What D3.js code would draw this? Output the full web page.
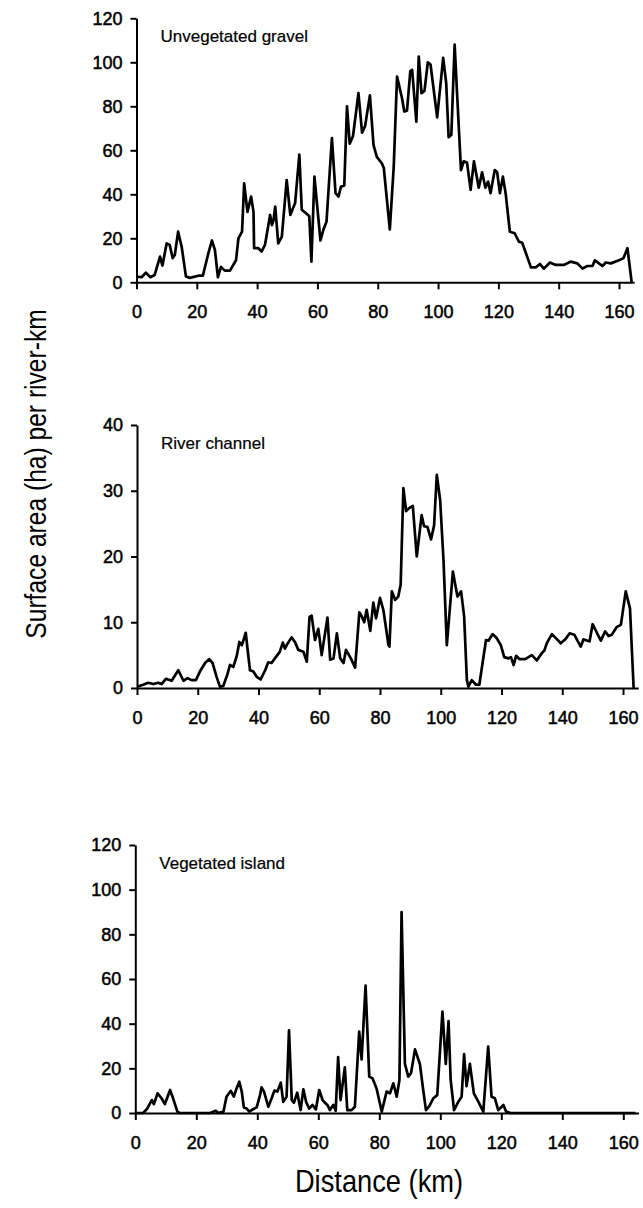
<!DOCTYPE html>
<html>
<head>
<meta charset="utf-8">
<style>
body { margin: 0; background: #fff; }
svg text { font-family: "Liberation Sans", Arial, Helvetica, sans-serif; fill: #000; }
</style>
</head>
<body>
<svg width="643" height="1208"></svg>
<script src="https://cdn.jsdelivr.net/npm/d3@7/dist/d3.min.js"></script>
<script>
// distance ticks (km)
var xTicks = [0, 20, 40, 60, 80, 100, 120, 140, 160];

// unvegetated gravel
var gravelKm  = [0,1.7,3.1,4.6,6,7.8,8.6,10,11,12,12.7,13.8,15,16.4,17.7,20.5,22,23.8,25,26,27,28,29.3,31,33,33.8,35,35.7,36.8,38,38.8,39,40.4,41.5,42.6,44.3,44.9,45.4,46,47,48.2,49.8,51,52.6,54,54.8,56.5,57.3,58,59,61,62,63,64.8,66,67,67.8,68.9,69.8,70.7,71.8,73.6,74.8,75.8,77.4,78.6,79.7,81.4,82,84,85.3,86.4,88,88.8,89.7,90.8,91.4,92.8,93.6,94.5,95.5,96.6,97.5,99.7,101.7,102.7,103.5,104.4,105.5,106.3,107.6,108.5,109.6,110.8,111.9,113.5,114.6,115.7,116.6,117.4,118.8,119.6,120.5,121.5,122.4,123.8,125.4,126.8,127.9,130.8,132.4,133.8,135.1,137.1,139,141.7,144,146.2,147.9,149.5,151.2,152,154.5,155.6,157.3,160,161.5,162.8,164.2];
var gravelVal = [2.6,2.3,4.4,2.3,3.3,11.7,7.6,17.7,17,11,12.4,23,16,2.6,2,3,3,13,19,14.7,2.3,7,5.3,5.3,10,20,23,45,32,39,32,15.5,15.5,14,17,30.6,26,28,34.4,17.7,20.8,46.5,30.6,36,58,33,31,30,9.4,48,19,24,27.5,65.5,40.5,39,43.5,44,80,63,66.5,86,68,71,85,62.4,57,54,52,24,52.6,93.5,84,77.6,78,96,96.5,73,102.6,86,87,100,99,75,102,90.5,66,67,108,86,51,55,54.4,42,55,43,50,43,45.8,40.5,51,50,40.5,48,40.5,23,22.3,18.5,18,6.8,6.8,8.3,6.2,9,7.9,7.9,9.4,8.6,6.2,7.4,7.4,10,7.4,9,8.6,10,11,15.5,0];

// river channel
var channelKm  = [0,2,3.7,5.4,7,8.1,9.5,11.4,13.6,15.3,16.6,18,19.4,20.7,22.4,23.8,24.9,26.2,27.3,28.4,29.7,30.6,31.7,32.8,33.7,34.5,35,35.8,36.3,37.2,38.3,39.4,40.7,42.2,43.2,44.3,45.4,46.2,47,48,48.7,49.5,50.9,52,53.1,54.8,55.9,56.8,57.5,58,58.6,59.7,60.8,62.7,63.6,64.7,65.8,66.9,68,68.8,70.4,71.8,73.2,74,74.8,75.6,76.8,77.8,78.7,80,81.1,82.8,83.1,83.9,85,86,86.8,87.7,88.6,89.7,90.8,92.1,93.7,94.5,95.6,96.8,97.8,98.7,99.8,100.9,102,104,105.5,106.7,107.7,108.6,109.1,110.2,111.6,112.7,114.9,115.7,117.1,118.4,119.8,120.9,122.3,123.1,124,124.8,125.9,127.8,130,131.6,133.3,134.1,135,136.6,138.3,139.5,141,142.4,144,145,146.1,147,148.3,149,150,151.4,152.7,154.1,155.3,156.3,158,159.3,160.9,162.3,163.5];
var channelVal = [0.2,0.5,0.8,0.6,0.8,0.6,1.4,1.1,2.7,1.1,1.5,1.2,1.2,2.5,3.8,4.4,3.8,1.7,0.2,0.3,2,3.5,3.2,4.8,7,6.5,7.2,8.4,6.3,2.7,2.5,1.7,1.3,2.7,3.9,3.8,4.5,5,5.5,6.9,6,6.7,7.7,7,5.8,5.5,4,10.8,11,9.3,7.3,9,5,10.7,4.3,4.5,8.3,4.5,3.8,5.8,4.5,3.1,11.5,10.9,10,11.9,8.7,13,10.6,13.7,11.9,6.5,6.3,14.7,13.4,13.9,15.7,30.4,26.9,27.4,27.7,20,26.3,24.6,24.5,22.6,24.7,32.4,28.6,19.5,6.5,17.7,13.9,14.7,10.9,1.2,0.2,1.2,0.5,0.5,7.3,7.2,8.2,7.6,6.5,4.7,4.5,4.7,3.5,4.9,4.4,4.4,5,4.2,5.3,5.7,6.9,8.2,7.4,6.8,7.4,8.3,8.1,7.2,6.3,7.4,7.2,7.1,9.7,8.4,7.2,8.6,7.9,8.1,9.3,9.6,14.7,12.1,0];

// vegetated island
var islandKm  = [0,2.6,3.9,5.4,6.1,7.3,8.6,9.7,11.4,12.2,13.8,14.6,24.5,25.6,26.4,27.2,28.9,29.9,31.3,32.3,33.2,34.1,34.9,35.6,36.5,37.4,38.5,39.8,40.9,41.4,42.2,43.6,44.7,45.6,46.6,47.7,48.5,49.6,50.4,51.3,52,53.1,54.2,55.1,56,57,58.1,59.2,60.3,61.4,62.2,63,63.8,64.9,65.7,66.5,67.3,68.7,69.5,70.9,72,73.4,74.2,75.5,76.7,77.8,79.1,80.8,82.4,83.5,84.6,85.7,86.6,87.3,88.4,89.5,90.4,91.7,93.3,94.4,95.3,96.4,97.7,99,100.7,101.8,102.7,103.4,104.5,105.9,107,107.8,108.6,109.7,111,112.5,114.1,115.7,116.8,117.9,119,120.7,121.6,123,164];
var islandVal = [0,0,2,5.8,4,8.8,6.6,4,10.3,7.3,0.6,0,0,0.6,1,0,0.6,7.3,9.9,7.3,11,14,9.6,2.5,2,0.6,1.6,2.5,8,11.5,9.6,2.8,6.6,10,9.6,13.6,5,7.3,37,5.8,4.6,9.1,1.3,10.6,5,2,3.6,1.6,10.3,5.8,4.6,3.6,1.3,3.6,1,25,5.8,20.4,1.3,1.3,2.8,36.4,24,57,16.3,15.5,11,0.6,9.6,8.8,13.3,7.3,14.8,90,22,16.3,17.8,28.5,22,10.3,1.3,3.1,6.6,8,45.4,22,41.2,14.8,1.3,5,7.3,26.4,12,22,8.8,5,0.6,29.7,7.3,6.6,1.3,3.6,0.6,0,0];

var svg = d3.select("svg");

function panel(km, val, yMax, yStep, title, x0, x160, yTop, yBot) {
	var x = d3.scaleLinear()
		.domain([0, 165])
		.range([x0, x0 + (x160 - x0) * 165 / 160]);
	var y = d3.scaleLinear()
		.domain([0, yMax])
		.range([yBot, yTop]);

	var g = svg.append("g");

	g.append("g")
		.attr("transform", "translate(0," + yBot + ")")
		.call(d3.axisBottom(x).tickValues(xTicks).tickSize(7).tickSizeOuter(0).tickPadding(16));
	g.append("g")
		.attr("transform", "translate(" + x0 + ",0)")
		.call(d3.axisLeft(y).tickValues(d3.range(0, yMax + 1, yStep)).tickSize(6).tickSizeOuter(0).tickPadding(8));

	g.selectAll(".domain, .tick line")
		.attr("stroke", "#000")
		.attr("stroke-width", 2);
	g.selectAll(".tick text")
		.attr("font-size", 18)
		.attr("fill", "#000")
		.attr("stroke", "#000")
		.attr("stroke-width", 0.5);

	var pts = km.map(function(d, i) { return [d, val[i]]; });
	g.append("path")
		.datum(pts)
		.attr("fill", "none")
		.attr("stroke", "#000")
		.attr("stroke-width", 2.7)
		.attr("stroke-linejoin", "round")
		.attr("d", d3.line()
			.x(function(d) { return x(d[0]); })
			.y(function(d) { return y(d[1]); }));

	g.append("text")
		.attr("x", x0 + 24)
		.attr("y", yTop + 24)
		.attr("font-size", 17)
		.attr("stroke", "#000")
		.attr("stroke-width", 0.2)
		.text(title);
}

panel(gravelKm, gravelVal, 120, 20, "Unvegetated gravel", 136.5, 619, 18.3, 282.3);
panel(channelKm, channelVal, 40, 10, "River channel", 137, 623, 425, 688);
panel(islandKm, islandVal, 120, 20, "Vegetated island", 135.3, 623.3, 845, 1113);

// condensed axis titles
svg.append("text")
	.attr("transform", "translate(46,474) rotate(-90) scale(0.82,1)")
	.attr("text-anchor", "middle")
	.attr("font-size", 30)
	.text("Surface area (ha) per river-km");

svg.append("text")
	.attr("transform", "translate(379,1192) scale(0.88,1)")
	.attr("text-anchor", "middle")
	.attr("font-size", 31)
	.text("Distance (km)");
</script>
</body>
</html>
